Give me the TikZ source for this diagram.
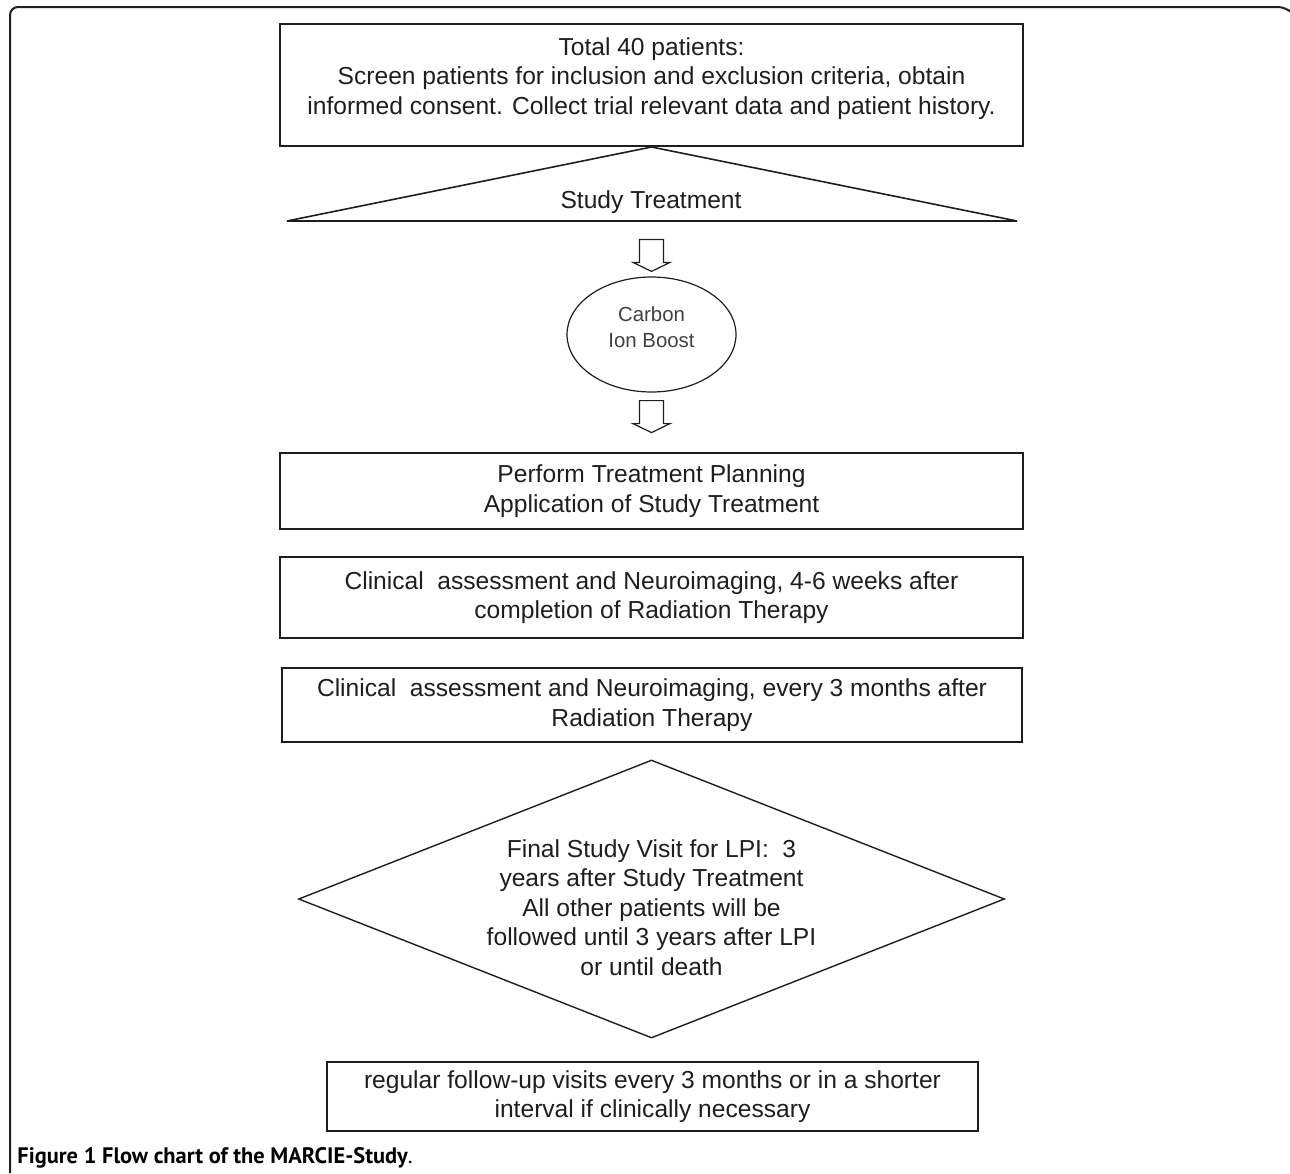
\documentclass[tikz,border=0pt]{standalone}
\usepackage{fontspec}
\setmainfont{Liberation Sans}
\newfontfamily\capfont{PT Sans}
\usetikzlibrary{shapes.geometric,calc}
\newcommand\chartfont{\fontsize{12.3pt}{14.75pt}\selectfont}
\definecolor{ink}{HTML}{1E1E1E}

\begin{document}
\begin{tikzpicture}[
		x=0.5pt, y=-0.5pt,
		every node/.style = {text=ink, font=\chartfont},
		box/.style = {rectangle, draw=ink, line width=1pt,% plain boxes of the chart
			align=center, inner sep=0pt,
			minimum width=371.5pt},
		thinline/.style = {draw=ink, line width=0.7pt},
		blockarrow/.pic = {% hollow down arrow, top edge at the origin
			\draw[thinline, line width=0.6pt] (-12,0) -- (12,0) -- (12,23) -- (18.5,23)
				-- (0,32) -- (-18.5,23) -- (-12,23) -- cycle;},
		]
		\useasboundingbox (0,0) rectangle (1290,1173);
		% frame of the figure
		\draw[ink, line width=1pt, rounded corners=4pt] (10,1173) -- (10,7) -- (1286,7) -- (1289,10);
		% chart
		\node[box, minimum height=61pt] (total) at (651.5,85)
			{Total 40 patients:\\
			Screen patients for inclusion and exclusion criteria, obtain\\
			informed consent. Collect trial relevant data and patient history.\rule[-9pt]{0pt}{0pt}};
		\coordinate (triL) at (287,221);
		\coordinate (triR) at (1017,221);
		\draw[thinline, line width=0.8pt] (total.south) -- (triR) -- (triL) -- cycle;
		\node (study) at (651,202) {Study Treatment};
		\node[ellipse, thinline, line width=0.6pt, align=center, inner sep=0pt,
			minimum width=84.5pt, minimum height=57.5pt,
			font=\fontsize{10.2pt}{13pt}\selectfont, text=ink!85] (boost) at (651.5,334.5)
			{Carbon\\Ion Boost\rule[-7pt]{0pt}{0pt}};
		\pic at ($(boost.north)+(0,-37)$) {blockarrow};
		\pic at ($(boost.south)+(0,8)$) {blockarrow};
		\node[box, minimum height=38pt] (plan) at (651.5,491)
			{Perform Treatment Planning\\Application of Study Treatment};
		\node[box, minimum height=40.5pt] (first) at (651.5,597.5)
			{Clinical~ assessment and Neuroimaging, 4-6 weeks after\\
			completion of Radiation Therapy};
		\node[box, minimum width=370pt, minimum height=37pt] (every) at (652,705)
			{Clinical~ assessment and Neuroimaging, every 3 months after\\
			Radiation Therapy};
		\node[diamond, thinline, inner sep=0pt, shape aspect=2.54,
			minimum width=353pt, minimum height=139pt] (final) at (651.5,899) {};
		\node[align=center] (finaltext) at ($(final.center)+(0,8.5)$)
			{Final Study Visit for LPI:~ 3\\
			years after Study Treatment\\
			All other patients will be\\
			followed until 3 years after LPI\\
			or until death};
		\node[box, minimum width=325.5pt, minimum height=34.5pt] (regular) at (652.5,1096.5)
			{regular follow-up visits every 3 months or in a shorter\\
			interval if clinically necessary};
		% caption
		\node[anchor=base west, inner sep=0pt, text=black,
			font=\capfont\fontsize{11.2pt}{12pt}\selectfont] (caption) at (17,1163)
			{\bfseries Figure 1 Flow chart of the MARCIE-Study\mdseries.};
	\end{tikzpicture}
\end{document}
